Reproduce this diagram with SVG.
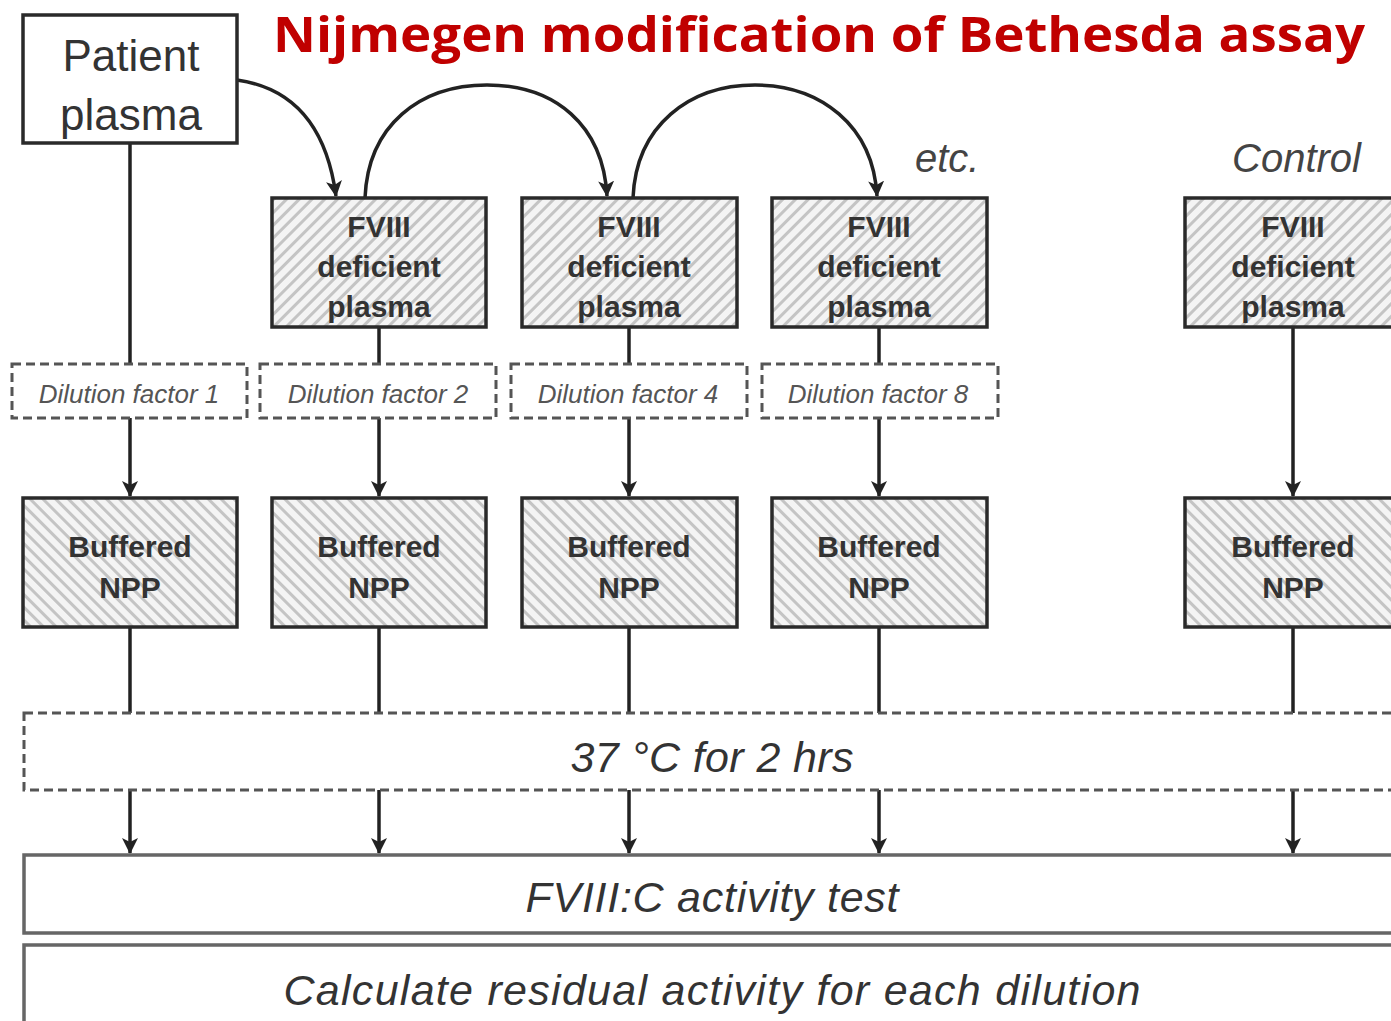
<svg xmlns="http://www.w3.org/2000/svg" width="1391" height="1021" viewBox="0 0 1391 1021">
<defs>
<pattern id="hatchF" patternUnits="userSpaceOnUse" width="9" height="9" patternTransform="rotate(45)">
<rect width="9" height="9" fill="#f4f4f4"/>
<line x1="1.5" y1="0" x2="1.5" y2="9" stroke="#c4c4c4" stroke-width="3"/>
</pattern>
<pattern id="hatchB" patternUnits="userSpaceOnUse" width="9" height="9" patternTransform="rotate(-45)">
<rect width="9" height="9" fill="#f4f4f4"/>
<line x1="1.5" y1="0" x2="1.5" y2="9" stroke="#c4c4c4" stroke-width="3"/>
</pattern>
<marker id="arr" markerUnits="userSpaceOnUse" markerWidth="18" markerHeight="18" refX="15" refY="8" orient="auto">
<path d="M0,0 L16,8 L0,16 L4,8 z" fill="#222"/>
</marker>
<style>
.box{stroke:#2a2a2a;stroke-width:3.5}
.plain{fill:#fff}
.fviii{fill:url(#hatchF)}
.npp{fill:url(#hatchB)}
.dash{fill:none;stroke:#555;stroke-width:3;stroke-dasharray:9 5}
.wide{fill:#fff;stroke:#666;stroke-width:3.5}
.bt{font-family:"Liberation Sans",Arial,sans-serif;font-weight:bold;font-size:30px;fill:#333;text-anchor:middle}
.pt{font-family:"Liberation Sans",Arial,sans-serif;font-size:44px;fill:#333;text-anchor:middle}
.dt{font-family:"Liberation Sans",Arial,sans-serif;font-style:italic;font-size:26px;fill:#555;text-anchor:middle}
.it{font-family:"Liberation Sans",Arial,sans-serif;font-style:italic;font-size:43px;fill:#333;text-anchor:middle}
.lab{font-family:"Liberation Sans",Arial,sans-serif;font-style:italic;font-size:40px;fill:#444}
.con{fill:none;stroke:#222;stroke-width:3.5}
.ar{marker-end:url(#arr)}
</style>
</defs>
<rect width="1391" height="1021" fill="#fff"/>
<text x="273" y="52" font-family="Open Sans,Liberation Sans,sans-serif" font-weight="bold" font-size="49" fill="#c00000" textLength="1092" lengthAdjust="spacingAndGlyphs">Nijmegen modification of Bethesda assay</text>
<text class="lab" x="915" y="172">etc.</text>
<text class="lab" x="1232" y="172">Control</text>

<g id="connectors">
<path class="con ar" d="M237,80 Q322,92 336,196"/>
<path class="con ar" d="M365,198 C368,125 420,85 487,85 C555,85 603,125 607,196"/>
<path class="con ar" d="M633,198 C636,125 690,85 755,85 C820,85 873,125 877,196"/>
<line class="con" x1="130" y1="143" x2="130" y2="364"/>
<line class="con" x1="379" y1="327" x2="379" y2="364"/>
<line class="con" x1="629" y1="327" x2="629" y2="364"/>
<line class="con" x1="879" y1="327" x2="879" y2="364"/>
<line class="con ar" x1="130" y1="418" x2="130" y2="496"/>
<line class="con ar" x1="379" y1="418" x2="379" y2="496"/>
<line class="con ar" x1="629" y1="418" x2="629" y2="496"/>
<line class="con ar" x1="879" y1="418" x2="879" y2="496"/>
<line class="con ar" x1="1293" y1="327" x2="1293" y2="496"/>
<line class="con" x1="130" y1="627" x2="130" y2="713"/>
<line class="con" x1="379" y1="627" x2="379" y2="713"/>
<line class="con" x1="629" y1="627" x2="629" y2="713"/>
<line class="con" x1="879" y1="627" x2="879" y2="713"/>
<line class="con" x1="1293" y1="627" x2="1293" y2="713"/>
<line class="con ar" x1="130" y1="790" x2="130" y2="853"/>
<line class="con ar" x1="379" y1="790" x2="379" y2="853"/>
<line class="con ar" x1="629" y1="790" x2="629" y2="853"/>
<line class="con ar" x1="879" y1="790" x2="879" y2="853"/>
<line class="con ar" x1="1293" y1="790" x2="1293" y2="853"/>
</g>

<g id="patient">
<rect class="box plain" x="23" y="15" width="214" height="128"/>
<text class="pt" x="131" y="71">Patient</text>
<text class="pt" x="131" y="130">plasma</text>
</g>

<g id="fviii1">
<rect class="box fviii" x="272" y="198" width="214" height="129"/>
<text class="bt" x="379" y="237">FVIII</text>
<text class="bt" x="379" y="277">deficient</text>
<text class="bt" x="379" y="317">plasma</text>
</g>
<g id="fviii2">
<rect class="box fviii" x="522" y="198" width="215" height="129"/>
<text class="bt" x="629" y="237">FVIII</text>
<text class="bt" x="629" y="277">deficient</text>
<text class="bt" x="629" y="317">plasma</text>
</g>
<g id="fviii3">
<rect class="box fviii" x="772" y="198" width="215" height="129"/>
<text class="bt" x="879" y="237">FVIII</text>
<text class="bt" x="879" y="277">deficient</text>
<text class="bt" x="879" y="317">plasma</text>
</g>
<g id="fviiiControl">
<rect class="box fviii" x="1185" y="198" width="215" height="129"/>
<text class="bt" x="1293" y="237">FVIII</text>
<text class="bt" x="1293" y="277">deficient</text>
<text class="bt" x="1293" y="317">plasma</text>
</g>

<g id="dil1">
<rect class="dash" x="12" y="364" width="235" height="54"/>
<text class="dt" x="129" y="403">Dilution factor 1</text>
</g>
<g id="dil2">
<rect class="dash" x="260" y="364" width="236" height="54"/>
<text class="dt" x="378" y="403">Dilution factor 2</text>
</g>
<g id="dil4">
<rect class="dash" x="511" y="364" width="236" height="54"/>
<text class="dt" x="628" y="403">Dilution factor 4</text>
</g>
<g id="dil8">
<rect class="dash" x="762" y="364" width="236" height="54"/>
<text class="dt" x="878" y="403">Dilution factor 8</text>
</g>

<g id="npp1">
<rect class="box npp" x="23" y="498" width="214" height="129"/>
<text class="bt" x="130" y="557">Buffered</text>
<text class="bt" x="130" y="598">NPP</text>
</g>
<g id="npp2">
<rect class="box npp" x="272" y="498" width="214" height="129"/>
<text class="bt" x="379" y="557">Buffered</text>
<text class="bt" x="379" y="598">NPP</text>
</g>
<g id="npp3">
<rect class="box npp" x="522" y="498" width="215" height="129"/>
<text class="bt" x="629" y="557">Buffered</text>
<text class="bt" x="629" y="598">NPP</text>
</g>
<g id="npp4">
<rect class="box npp" x="772" y="498" width="215" height="129"/>
<text class="bt" x="879" y="557">Buffered</text>
<text class="bt" x="879" y="598">NPP</text>
</g>
<g id="nppControl">
<rect class="box npp" x="1185" y="498" width="215" height="129"/>
<text class="bt" x="1293" y="557">Buffered</text>
<text class="bt" x="1293" y="598">NPP</text>
</g>

<g id="incubation">
<rect class="dash" x="24" y="713" width="1390" height="77"/>
<text class="it" x="712" y="772" textLength="283">37 °C for 2 hrs</text>
</g>
<g id="activity">
<rect class="wide" x="24" y="855" width="1390" height="78"/>
<text class="it" x="712" y="912" textLength="373">FVIII:C activity test</text>
</g>
<g id="calculate">
<rect class="wide" x="24" y="945" width="1390" height="100"/>
<text class="it" x="712" y="1005" textLength="857">Calculate residual activity for each dilution</text>
</g>
</svg>
